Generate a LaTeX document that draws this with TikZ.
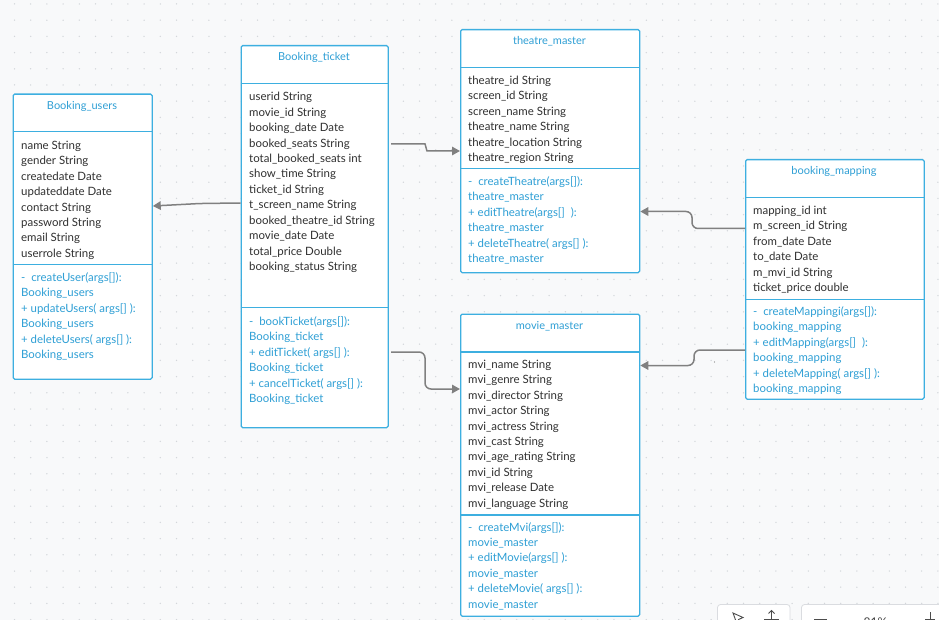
\documentclass[tikz,border=0pt]{standalone}
\usepackage{fontspec}
\setmainfont{Lato}
\usetikzlibrary{arrows.meta}
\definecolor{bgc}{HTML}{F8F9FA}
\definecolor{dotc}{HTML}{D3D6DA}
\definecolor{boxblue}{HTML}{3DAFE0}
\definecolor{txtblue}{HTML}{2E9FD5}
\definecolor{txtdark}{HTML}{303030}
\definecolor{conngray}{HTML}{808080}
\definecolor{toolgray}{HTML}{DADCE0}
\newcommand\umllines[5]{%
  \foreach \t [count=\i] in {#5} \node[#4] (#1\i) at (#2, #3+\i*15.4-15.4) {\t};}
\begin{document}
\begin{tikzpicture}[x=1pt,y=-1pt,
  umlbox/.style={draw=boxblue, line width=1.3pt, fill=white, rounded corners=1.5pt, anchor=north west, inner sep=0pt},
  sepline/.style={draw=boxblue, line width=1.3pt},
  ttl/.style={text=txtblue, font=\fontsize{11}{13}\selectfont, anchor=base, inner sep=0pt},
  attr/.style={text=txtdark, font=\fontsize{11.45}{13}\selectfont, anchor=base west, inner sep=0pt},
  meth/.style={text=txtblue, font=\fontsize{11.4}{13}\selectfont, anchor=base west, inner sep=0pt},
  conn/.style={draw=conngray, line width=1.5pt, rounded corners=6pt, -{Triangle[length=8pt,width=8.5pt]}},
  tool/.style={draw=toolgray, fill=white, line width=0.8pt, rounded corners=3pt},
  toolic/.style={draw=black!70, line width=0.9pt}
]
\useasboundingbox (0,0) rectangle (939,620);
\clip (0,0) rectangle (939,620);
\fill[bgc] (0,0) rectangle (939,620);
\foreach \i in {0,...,57} \foreach \j in {0,...,38} \fill[dotc] (14.5+\i*16.2, 4+\j*16.2) circle[radius=0.75pt];

% ---------- Booking_users ----------
\node[umlbox, minimum width=139pt, minimum height=285pt] (bu) at (12.5,93.5) {};
\draw[sepline] (12.5,131.5) -- (151.5,131.5);
\draw[sepline] (12.5,264.5) -- (151.5,264.5);
\node[ttl] (buT) at (82,109.5) {Booking\_users};
\umllines{bua}{21}{149.5}{attr}{{name String},{gender String},{createdate Date},{updateddate Date},{contact String},{password String},{email String},{userrole String}}
\umllines{bum}{21}{281.5}{meth}{{-~ createUser(args[]):},{Booking\_users},{+ updateUsers( args[] ):},{Booking\_users},{+ deleteUsers( args[] ):},{Booking\_users}}

% ---------- Booking_ticket ----------
\node[umlbox, minimum width=147pt, minimum height=382pt] (bt) at (240.5,45) {};
\draw[sepline] (240.5,83.5) -- (387.5,83.5);
\draw[sepline] (240.5,307.5) -- (387.5,307.5);
\node[ttl] (btT) at (314,60.5) {Booking\_ticket};
\umllines{bta}{249}{101}{attr}{{userid String},{movie\_id String},{booking\_date Date},{booked\_seats String},{total\_booked\_seats int},{show\_time String},{ticket\_id String},{t\_screen\_name String},{booked\_theatre\_id String},{movie\_date Date},{total\_price Double},{booking\_status String}}
\umllines{btm}{249}{325.5}{meth}{{-~ bookTicket(args[]):},{Booking\_ticket},{+ editTicket( args[] ):},{Booking\_ticket},{+ cancelTicket( args[] ):},{Booking\_ticket}}

% ---------- theatre_master ----------
\node[umlbox, minimum width=179pt, minimum height=243pt] (tm) at (460,29) {};
\draw[sepline] (460,67.5) -- (639,67.5);
\draw[sepline] (460,168.5) -- (639,168.5);
\node[ttl] (tmT) at (549.5,44.5) {theatre\_master};
\umllines{tma}{468}{84.5}{attr}{{theatre\_id String},{screen\_id String},{screen\_name String},{theatre\_name String},{theatre\_location String},{theatre\_region String}}
\umllines{tmm}{468}{185.5}{meth}{{-~ createTheatre(args[]):},{theatre\_master},{+ editTheatre(args[]~ ):},{theatre\_master},{+ deleteTheatre(~args[] ):},{theatre\_master}}

% ---------- movie_master ----------
\node[umlbox, minimum width=179pt, minimum height=302pt] (mm) at (460,313.5) {};
\draw[sepline] (460,352) -- (639,352);
\draw[sepline] (460,515) -- (639,515);
\node[ttl] (mmT) at (549.5,329.5) {movie\_master};
\umllines{mma}{468}{368.5}{attr}{{mvi\_name String},{mvi\_genre String},{mvi\_director String},{mvi\_actor String},{mvi\_actress String},{mvi\_cast String},{mvi\_age\_rating String},{mvi\_id String},{mvi\_release Date},{mvi\_language String}}
\umllines{mmm}{468}{531}{meth}{{-~ createMvi(args[]):},{movie\_master},{+ editMovie(args[] ):},{movie\_master},{+ deleteMovie( args[] ):},{movie\_master}}

% ---------- booking_mapping ----------
\node[umlbox, minimum width=178.5pt, minimum height=239.5pt] (bm) at (745,159) {};
\draw[sepline] (745,197.5) -- (923.5,197.5);
\draw[sepline] (745,299.5) -- (923.5,299.5);
\node[ttl] (bmT) at (834,174.5) {booking\_mapping};
\umllines{bma}{753}{214.5}{attr}{{mapping\_id int},{m\_screen\_id String},{from\_date Date},{to\_date Date},{m\_mvi\_id String},{ticket\_price double}}
\umllines{bmm}{753}{315.5}{meth}{{-~ createMappingi(args[]):},{booking\_mapping},{+ editMapping(args[]~ ):},{booking\_mapping},{+ deleteMapping( args[] ):},{booking\_mapping}}

% ---------- connectors ----------
\coordinate (s2) at (391,144);
\coordinate (s3) at (391,352);
\draw[conn] (bt.west |- 0,203) -- (200,203.5) -- (bu.east |- 0,206);
\draw[conn] (s2) -- (419,144) to[out=0,in=180] (433,151) -- (tm.west |- 0,151);
\draw[conn] (s3) -- (425,352) -- (425,389) -- (mm.west |- 0,389);
\draw[conn] (bm.west |- 0,228.5) -- (692,228.5) -- (692,211.5) -- (tm.east |- 0,211.5);
\draw[conn] (bm.west |- 0,350) -- (694,350) -- (694,365.5) -- (mm.east |- 0,365.5);
\fill[conngray] (714.5,362) circle[radius=0.6pt];

% ---------- toolbar (cut off) ----------
\draw[tool] (717.5,604.5) rectangle (790,640);
\draw[tool] (801.5,604.5) rectangle (960,640);
\draw[toolic] (733,613) -- (743,617.5) -- (738.5,619.5) -- (737,624) -- cycle;
\draw[toolic] (771.5,621) -- (771.5,611);
\draw[toolic] (768.5,613.5) -- (771.5,610.5) -- (774.5,613.5);
\draw[toolic] (764,619) -- (779,619);
\draw[toolic] (814,619.5) -- (827,619.5);
\draw[toolic] (930,612) -- (930,622);
\draw[toolic] (925,619.5) -- (935,619.5);
\node[text=black!75, font=\fontsize{12}{14}\selectfont, anchor=base, inner sep=0pt] (zoomtxt) at (875.5,626) {81\%};
\end{tikzpicture}
\end{document}
